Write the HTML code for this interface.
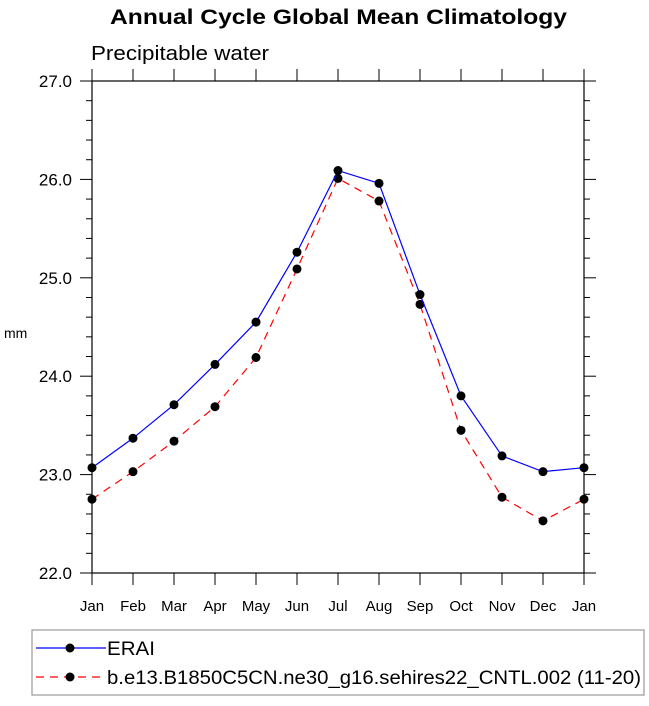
<!DOCTYPE html>
<html><head><meta charset="utf-8"><style>
body{margin:0;background:#fff;font-family:"Liberation Sans",sans-serif}
</style></head><body>
<svg id="chart" width="649" height="701" xmlns="http://www.w3.org/2000/svg" font-family="Liberation Sans, sans-serif">
<text x="110" y="24" font-size="21" font-weight="bold" textLength="457" lengthAdjust="spacingAndGlyphs">Annual Cycle Global Mean Climatology</text>
<text x="91" y="60" font-size="20" textLength="178" lengthAdjust="spacingAndGlyphs">Precipitable water</text>
<text x="4" y="338" font-size="14">mm</text>
<rect x="92" y="81" width="492" height="492" fill="none" stroke="#000" stroke-width="1.2"/>
<g id="ticks"></g>
<g id="series"></g>
<g>
<rect x="32" y="630" width="612" height="65" fill="none" stroke="#999" stroke-width="1.2"/>
<line x1="36" y1="648" x2="106" y2="648" stroke="#00f" stroke-width="1.2"/>
<circle cx="70" cy="648" r="4.5" fill="#000"/>
<text x="107" y="655" font-size="19" textLength="48" lengthAdjust="spacingAndGlyphs">ERAI</text>
<line x1="36" y1="677" x2="106" y2="677" stroke="#f00" stroke-width="1.2" stroke-dasharray="8,6"/>
<circle cx="70" cy="677" r="4.5" fill="#000"/>
<text x="107" y="684" font-size="19" textLength="534" lengthAdjust="spacingAndGlyphs">b.e13.B1850C5CN.ne30_g16.sehires22_CNTL.002 (11-20)</text>
</g>
</svg>
<script>
const months=["Jan","Feb","Mar","Apr","May","Jun","Jul","Aug","Sep","Oct","Nov","Dec","Jan"];
const erai=[23.07,23.37,23.71,24.12,24.55,25.26,26.09,25.96,24.83,23.80,23.19,23.03,23.07];
const model=[22.75,23.03,23.34,23.69,24.19,25.09,26.01,25.78,24.73,23.45,22.77,22.53,22.75];
const yTicks=["22.0","23.0","24.0","25.0","26.0","27.0"];
const NS="http://www.w3.org/2000/svg";
const X0=92,X1=584,Y0=573,Y1=81,YMIN=22,YMAX=27;
const xs=i=>X0+(X1-X0)*i/(months.length-1);
const ys=v=>Y0-(v-YMIN)/(YMAX-YMIN)*(Y0-Y1);
function mk(tag,attrs,parent){const e=document.createElementNS(NS,tag);for(const k in attrs)e.setAttribute(k,attrs[k]);parent.appendChild(e);return e;}
const tg=document.getElementById('ticks');
for(let v=YMIN;v<=YMAX+1e-9;v+=0.2){
  const y=ys(v);const major=Math.abs(v-Math.round(v))<1e-6;
  const L=major?12:6;
  mk('line',{x1:X0-L,y1:y,x2:X0,y2:y,stroke:'#000'},tg);
  mk('line',{x1:X1,y1:y,x2:X1+L,y2:y,stroke:'#000'},tg);
}
yTicks.forEach(t=>{const l=mk('text',{x:72,y:ys(+t)+6,'text-anchor':'end','font-size':'17'},tg);l.textContent=t;

});
months.forEach((m,i)=>{const x=xs(i);mk('line',{x1:x,y1:Y0,x2:x,y2:Y0+12,stroke:'#000'},tg);mk('line',{x1:x,y1:Y1,x2:x,y2:Y1-12,stroke:'#000'},tg);
const l=mk('text',{x:x,y:611,'text-anchor':'middle','font-size':'15'},tg);l.textContent=m;

});
const sg=document.getElementById('series');
function draw(vals,color,dash,name){
  const p=mk('polyline',{points:vals.map((v,i)=>xs(i)+','+ys(v)).join(' '),fill:'none',stroke:color,'stroke-width':1.2,'stroke-dasharray':dash},sg);
  
  
  vals.forEach((v,i)=>{const c=mk('circle',{cx:xs(i),cy:ys(v),r:4.5,fill:'#000'},sg);
  
  });
}
draw(model,'#f00','8,6','model');
draw(erai,'#00f','none','erai');
</script>
</body></html>
